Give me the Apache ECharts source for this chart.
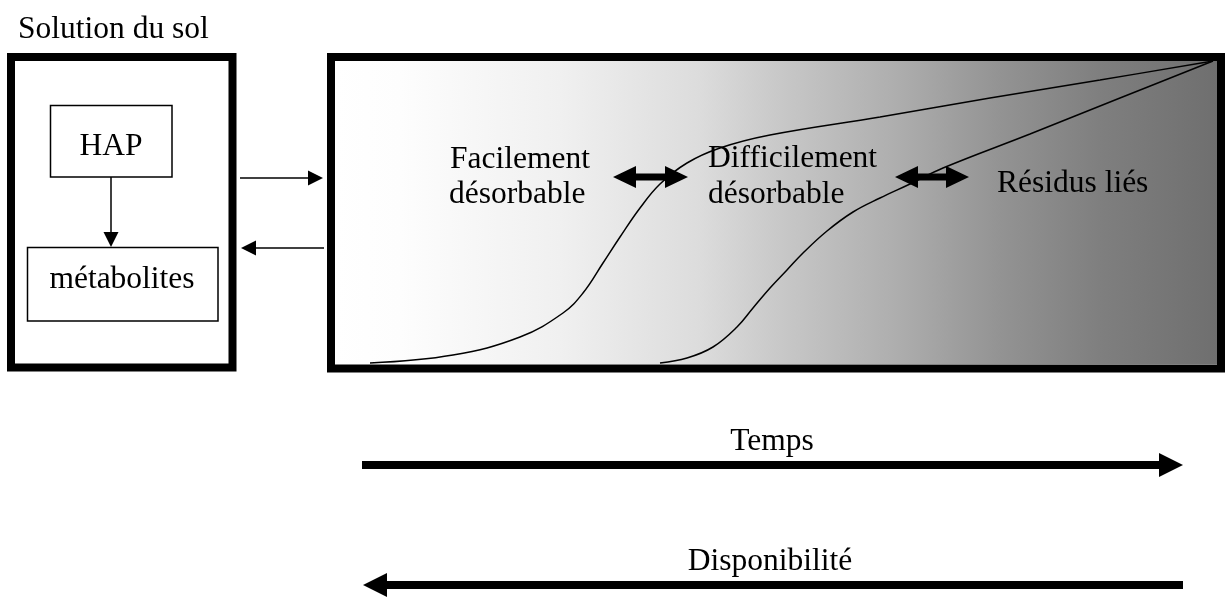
<!DOCTYPE html>
<html>
<head>
<meta charset="utf-8">
<script src="https://cdn.jsdelivr.net/npm/echarts@6/dist/echarts.min.js"></script>
<style>
  html, body { margin: 0; padding: 0; background: #fff; }
  #chart { width: 1230px; height: 598px; }
</style>
</head>
<body>
<div id="chart"></div>
<script>
// toutes les coordonnees sont en unites du repere (0..1230 x 0..598, y vers le bas)

// courbe "facilement desorbable" -> "difficilement desorbable"
var courbeFacile = [[370,363],[453,355],[520,337],[563,313],[583,293],[603,263],[620,237],[640,208],[660,184],[687,163],[720,148],[770,135],[880,117],[990,98],[1100,80],[1213,61]];
// courbe "difficilement desorbable" -> "residus lies"
var courbeDifficile = [[660,363],[687,358],[713,347],[737,327],[753,308],[770,288],[787,270],[803,253],[827,231],[853,212],[880,198],[910,184],[943,168],[1030,134],[1120,98],[1213,61]];

// cadres : x0, y0, x1, y1, epaisseur
var cadres = [
    [11, 57, 232.5, 367.5, 8],     // solution du sol
    [331, 57, 1221, 368.5, 8],     // sol
    [50.5, 105.5, 172, 177, 1.5],  // HAP
    [27.5, 247.5, 218, 321, 1.5]   // metabolites
];
// zone en degrade du sol
var zoneSol = [[335, 61, 1217, 364]];

// fleches fines : x depart, y depart, x pointe, y pointe
var flechesFines = [
    [111, 177, 111, 247],
    [240, 178, 323, 178],
    [324, 248, 241, 248]
];
// doubles fleches : x pointe gauche, x pointe droite, y
var doublesFleches = [
    [613, 688, 177],
    [895, 969, 177]
];
// grandes fleches : x depart, x pointe, y
var grandesFleches = [
    [362, 1183, 465],
    [1183, 363, 585]
];

var textes = ['Solution du sol', 'HAP', 'métabolites', 'Facilement', 'désorbable', 'Difficilement', 'désorbable', 'Résidus liés', 'Temps', 'Disponibilité'];
var textesPos = [[18,30],[111,147],[122,280],[450,160],[449,195],[708,159],[708,195],[997,184],[772,442],[770,562]];
var textesAlign = ['left','center','center','left','left','left','left','left','center','center'];

var police = '"Liberation Serif", "Times New Roman", serif';

var myChart = echarts.init(document.getElementById('chart'));

function fleche(x0, y0, x1, y1, long, demi) {
    var dx = x1 - x0, dy = y1 - y0;
    var l = Math.sqrt(dx * dx + dy * dy);
    var ux = dx / l, uy = dy / l;
    var bx = x1 - ux * long, by = y1 - uy * long;
    return [[x1, y1], [bx - uy * demi, by + ux * demi], [bx + uy * demi, by - ux * demi]];
}

var option = {
    animation: false,
    backgroundColor: '#fff',
    grid: { left: 0, right: 0, top: 0, bottom: 0, containLabel: false },
    xAxis: { type: 'value', min: 0, max: 1230, show: false },
    yAxis: { type: 'value', min: 0, max: 598, inverse: true, show: false },
    series: [
        {
            type: 'custom', name: 'fond', z: 1,
            data: zoneSol,
            renderItem: function (params, api) {
                var a = api.coord([api.value(0), api.value(1)]);
                var b = api.coord([api.value(2), api.value(3)]);
                return {
                    type: 'rect',
                    shape: { x: a[0], y: a[1], width: b[0] - a[0], height: b[1] - a[1] },
                    style: {
                        fill: new echarts.graphic.LinearGradient(0, 0, 1, 0, [
                            { offset: 0, color: '#ffffff' },
                            { offset: 0.074, color: '#fdfdfd' },
                            { offset: 0.255, color: '#f0f0f0' },
                            { offset: 0.414, color: '#dcdcdc' },
                            { offset: 0.5, color: '#c9c9c9' },
                            { offset: 0.64, color: '#adadad' },
                            { offset: 0.754, color: '#939393' },
                            { offset: 0.867, color: '#7f7f7f' },
                            { offset: 1, color: '#6f6f6f' }
                        ])
                    }
                };
            }
        },
        {
            type: 'line', name: 'facile', z: 3,
            data: courbeFacile, smooth: 0.4, symbol: 'none',
            lineStyle: { color: '#000', width: 1.5 }
        },
        {
            type: 'line', name: 'difficile', z: 3,
            data: courbeDifficile, smooth: 0.4, symbol: 'none',
            lineStyle: { color: '#000', width: 1.5 }
        },
        {
            type: 'custom', name: 'cadres', z: 4,
            data: cadres,
            renderItem: function (params, api) {
                var a = api.coord([api.value(0), api.value(1)]);
                var b = api.coord([api.value(2), api.value(3)]);
                return {
                    type: 'rect',
                    shape: { x: a[0], y: a[1], width: b[0] - a[0], height: b[1] - a[1] },
                    style: { fill: null, stroke: '#000', lineWidth: api.value(4) }
                };
            }
        },
        {
            type: 'custom', name: 'fleches', z: 5,
            data: flechesFines,
            renderItem: function (params, api) {
                var a = api.coord([api.value(0), api.value(1)]);
                var b = api.coord([api.value(2), api.value(3)]);
                var tete = fleche(a[0], a[1], b[0], b[1], 15, 7.5);
                var mx = (tete[1][0] + tete[2][0]) / 2, my = (tete[1][1] + tete[2][1]) / 2;
                return {
                    type: 'group',
                    children: [
                        { type: 'line', shape: { x1: a[0], y1: a[1], x2: mx, y2: my }, style: { stroke: '#000', lineWidth: 1.5 } },
                        { type: 'polygon', shape: { points: tete }, style: { fill: '#000' } }
                    ]
                };
            }
        },
        {
            type: 'custom', name: 'doubles', z: 5,
            data: doublesFleches,
            renderItem: function (params, api) {
                var g = api.coord([api.value(0), api.value(2)]);
                var d = api.coord([api.value(1), api.value(2)]);
                var y = g[1], t = 23, h = 11, s = 3.5;
                return {
                    type: 'polygon',
                    shape: {
                        points: [
                            [g[0], y], [g[0] + t, y - h], [g[0] + t, y - s], [d[0] - t, y - s], [d[0] - t, y - h],
                            [d[0], y], [d[0] - t, y + h], [d[0] - t, y + s], [g[0] + t, y + s], [g[0] + t, y + h]
                        ]
                    },
                    style: { fill: '#000' }
                };
            }
        },
        {
            type: 'custom', name: 'grandes', z: 5,
            data: grandesFleches,
            renderItem: function (params, api) {
                var a = api.coord([api.value(0), api.value(2)]);
                var b = api.coord([api.value(1), api.value(2)]);
                var dir = b[0] > a[0] ? 1 : -1;
                var base = b[0] - dir * 24;
                return {
                    type: 'group',
                    children: [
                        { type: 'line', shape: { x1: a[0], y1: a[1], x2: base, y2: a[1] }, style: { stroke: '#000', lineWidth: 8 } },
                        { type: 'polygon', shape: { points: [[b[0], b[1]], [base, b[1] - 12], [base, b[1] + 12]] }, style: { fill: '#000' } }
                    ]
                };
            }
        },
        {
            type: 'custom', name: 'textes', z: 6,
            data: textesPos,
            renderItem: function (params, api) {
                var p = api.coord([api.value(0), api.value(1)]);
                var i = params.dataIndex;
                return {
                    type: 'text',
                    x: p[0], y: p[1],
                    style: {
                        text: textes[i],
                        fontSize: 31.5,
                        fontFamily: police,
                        fill: '#000',
                        align: textesAlign[i],
                        verticalAlign: 'middle'
                    }
                };
            }
        }
    ]
};

window.onresize = myChart.resize;
myChart.setOption(option);
</script>
</body>
</html>
